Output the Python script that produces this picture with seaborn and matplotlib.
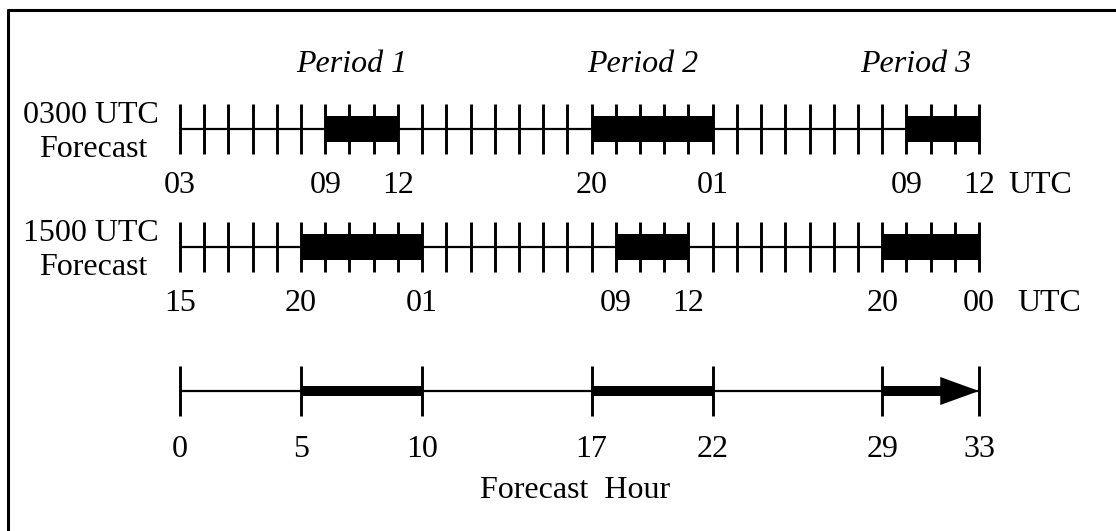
import pandas as pd
import seaborn as sns
import matplotlib.pyplot as plt

# hours along the forecast (shared by all three rows)
span_hours = [0, 33]
hourly_ticks = list(range(0, 34))

# 0300 UTC forecast row
r1_label_hours = [0, 6, 9, 17, 22, 30, 33]
r1_label_text = ['03', '09', '12', '20', '01', '09', '12']
r1_periods = [(6, 9), (17, 22), (30, 33)]

# 1500 UTC forecast row
r2_label_hours = [0, 5, 10, 18, 21, 29, 33]
r2_label_text = ['15', '20', '01', '09', '12', '20', '00']
r2_periods = [(5, 10), (18, 21), (29, 33)]

# forecast hour row
r3_ticks = [0, 5, 10, 17, 22, 29, 33]
r3_periods = [(5, 10), (17, 22)]
r3_arrow = (29, 33)

period_names = ['Period 1', 'Period 2', 'Period 3']
period_name_hours = [7.1, 19.1, 30.4]


def main() -> None:
    sns.set_theme()
    sns.set_style("white")
    plt.rcParams['font.family'] = ['Liberation Serif', 'DejaVu Serif']
    plt.rcParams['text.color'] = 'black'

    W, H = 1116, 531
    x0_px, x33_px = 180, 979
    px = (x33_px - x0_px) / 33.0

    def hour_at(xpix):
        return (xpix - x0_px) / px

    fig = plt.figure(figsize=(W / 100, H / 100), dpi=100)
    ax = fig.add_axes([0, 0, 1, 1])
    ax.set_xlim(hour_at(0), hour_at(W))
    ax.set_ylim(H, 0)
    ax.axis('off')

    rows_y = [129, 247, 391]
    tick_half = 25
    bar_half = 13
    fs = 23

    # base lines
    base = pd.DataFrame({
        'hour': span_hours * 3,
        'y': [y for y in rows_y for _ in span_hours],
        'row': [i for i in range(3) for _ in span_hours],
    })
    sns.lineplot(data=base, x='hour', y='y', units='row', estimator=None,
                 color='black', lw=1.6, ax=ax)

    # rows 1 and 2: hourly ticks, black period bars, UTC labels
    rows = [
        (rows_y[0], r1_label_hours, r1_label_text, r1_periods, '0300 UTC', hour_at(1008)),
        (rows_y[1], r2_label_hours, r2_label_text, r2_periods, '1500 UTC', hour_at(1017)),
    ]
    for y, hrs, txt, periods, name, utc_x in rows:
        ax.vlines(hourly_ticks, y - tick_half, y + tick_half, color='black', lw=2.1)
        ax.broken_barh([(a, b - a) for a, b in periods], (y - bar_half, 2 * bar_half),
                       color='black', lw=0)
        for h, t in zip(hrs, txt):
            ax.text(h, y + 64, t, ha='center', va='baseline', fontsize=fs)
        ax.text(utc_x, y + 64, 'UTC', ha='left', va='baseline', fontsize=fs)
        ax.text(hour_at(91), y - 6, name, ha='center', va='baseline', fontsize=fs)
        ax.text(hour_at(93), y + 28, 'Forecast', ha='center', va='baseline', fontsize=fs)

    # row 3: forecast hour
    y = rows_y[2]
    ax.vlines(r3_ticks, y - tick_half, y + tick_half, color='black', lw=2.1)
    ax.broken_barh([(a, b - a) for a, b in r3_periods], (y - 5, 10),
                   color='black', lw=0)
    ax.arrow(r3_arrow[0], y, r3_arrow[1] - r3_arrow[0], 0, width=10, head_width=28,
             head_length=1.6, length_includes_head=True, color='black', lw=0)
    for h in r3_ticks:
        ax.text(h, y + 66, str(h), ha='center', va='baseline', fontsize=fs)
    ax.text(16.3, y + 107, 'Forecast  Hour', ha='center', va='baseline', fontsize=fs)

    # period titles
    for h, name in zip(period_name_hours, period_names):
        ax.text(h, 72, name, ha='center', va='baseline', fontsize=fs, style='italic')

    # frame (top and left edges only)
    ax.axhline(10, xmin=8 / W, xmax=1, color='black', lw=2.2)
    ax.axvline(hour_at(8), ymin=0, ymax=1 - 10 / H, color='black', lw=2.2)

    plt.savefig('out.png', dpi=100)


main()
